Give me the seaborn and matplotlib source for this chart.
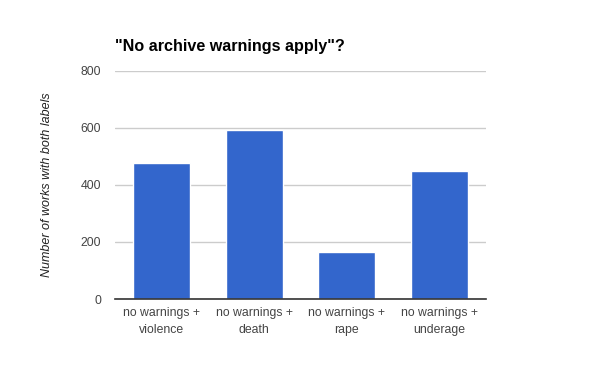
import matplotlib
matplotlib.use("Agg")
import matplotlib.pyplot as plt
import seaborn as sns
import pandas as pd

categories = [
    "no warnings +\nviolence",
    "no warnings +\ndeath",
    "no warnings +\nrape",
    "no warnings +\nunderage",
]
works = [478, 594, 166, 450]
y_ticks = [0, 200, 400, 600, 800]

sns.set_theme(style="white")
plt.rcParams["font.family"] = ["Liberation Sans", "DejaVu Sans"]

df = pd.DataFrame({"label": categories, "works": works})

fig = plt.figure(figsize=(6.0, 3.71), dpi=100)
ax = fig.add_axes([115 / 600, 1 - 299 / 371, 371 / 600, 228 / 371])

sns.barplot(
    data=df, x="label", y="works", ax=ax,
    color="#3366cc", saturation=1, width=0.615, zorder=3,
)

ax.set_ylim(0, 800)
ax.set_xlim(-0.5, 3.5)
ax.set_yticks(y_ticks)
ax.set_yticklabels([str(t) for t in y_ticks])
ax.yaxis.grid(True, color="#cccccc", linewidth=1, zorder=0)
ax.set_axisbelow(True)

for side in ["top", "right", "left"]:
    ax.spines[side].set_visible(False)
ax.spines["bottom"].set_color("#333333")
ax.spines["bottom"].set_linewidth(1.2)
ax.spines["bottom"].set_zorder(4)

ax.tick_params(axis="both", length=0, labelsize=8.8, labelcolor="#444444")
ax.tick_params(axis="y", pad=10)
ax.tick_params(axis="x", pad=6)
for lbl in ax.get_xticklabels():
    lbl.set_linespacing(1.5)

ax.set_xlabel("")
ax.set_ylabel("Number of works with both labels", fontsize=9, style="italic",
              color="#222222", labelpad=20)

fig.text(115 / 600, 1 - 51 / 371, '"No archive warnings apply"?',
         fontsize=11.6, fontweight="bold", color="#000000", ha="left", va="baseline")

fig.savefig("out.png", dpi=100)
